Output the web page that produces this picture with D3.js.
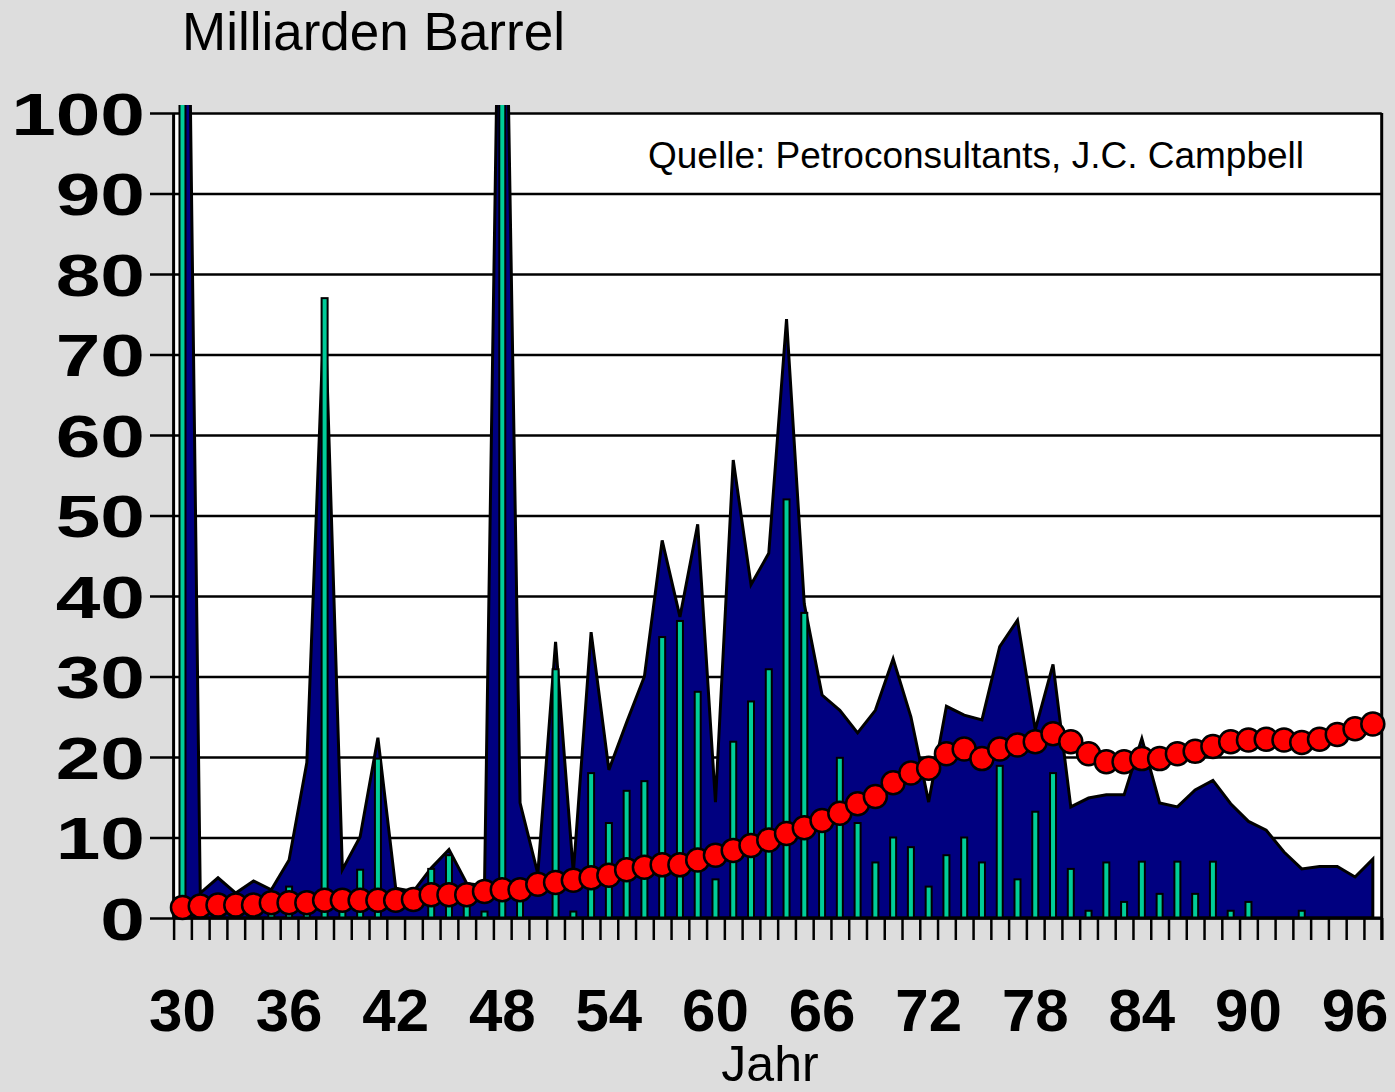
<!DOCTYPE html>
<html>
<head>
<meta charset="utf-8">
<script src="https://cdn.jsdelivr.net/npm/d3@7"></script>
<style>
  body { margin: 0; background: #dddddd; }
  svg { display: block; font-family: Arial, "Liberation Sans", sans-serif; }
</style>
</head>
<body>
<svg id="chart" width="1395" height="1092"></svg>
<script>
// Data (Milliarden Barrel per year)
var years = [1930,1931,1932,1933,1934,1935,1936,1937,1938,1939,
             1940,1941,1942,1943,1944,1945,1946,1947,1948,1949,
             1950,1951,1952,1953,1954,1955,1956,1957,1958,1959,
             1960,1961,1962,1963,1964,1965,1966,1967,1968,1969,
             1970,1971,1972,1973,1974,1975,1976,1977,1978,1979,
             1980,1981,1982,1983,1984,1985,1986,1987,1988,1989,
             1990,1991,1992,1993,1994,1995,1996,1997];

// blue area
var areaValues = [180,3.1,5.0,3.1,4.6,3.5,7.2,19.3,77,6.0,
                  10.1,22.4,3.7,3.3,6.2,8.5,4.3,4.0,148,14.3,
                  5.5,34.3,5.6,35.5,18.4,24.3,30.0,46.9,37.4,48.9,
                  14.4,56.9,41.4,45.3,74.4,39.0,27.7,25.8,23.0,25.8,
                  32.2,25.0,14.4,26.3,25.2,24.6,33.7,37.0,23.4,31.5,
                  13.8,14.9,15.3,15.3,22.3,14.3,13.8,15.9,17.1,14.2,
                  12.0,10.9,8.2,6.1,6.4,6.4,5.1,7.3];

// green bars
var barValues = [180,0,0,0,0,1.5,3.9,1.5,77,1.5,
                 6.0,19.8,0,0,6.1,7.8,2.5,0.8,150,2.5,
                 0,30.9,0.8,18.0,11.8,15.8,17.0,34.9,36.9,28.1,
                 4.8,21.9,26.9,30.9,52.0,37.9,11.0,19.9,11.8,6.9,
                 10.0,8.8,3.9,7.8,10.0,6.9,18.9,4.8,13.2,18.0,
                 6.1,0.9,6.9,2.0,7.0,3.0,7.0,3.0,7.0,0.9,
                 2.0,0,0,0.9,0,0,0,0];

// red dots
var dotValues = [1.3,1.5,1.6,1.6,1.6,1.9,1.9,1.9,2.2,2.2,
                 2.2,2.2,2.2,2.3,2.9,2.9,2.9,3.3,3.5,3.5,
                 4.2,4.4,4.7,5.0,5.3,6.0,6.3,6.6,6.6,7.2,
                 7.8,8.4,9.0,9.7,10.5,11.2,12.1,13.0,14.2,15.1,
                 16.8,18.0,18.6,20.4,21.0,19.8,21.0,21.5,21.9,22.9,
                 21.9,20.4,19.4,19.4,19.8,19.8,20.4,20.7,21.3,21.9,
                 22.1,22.2,22.1,21.8,22.2,22.8,23.5,24.1];

var yTicks = [0,10,20,30,40,50,60,70,80,90,100];
var xLabels = [1930,1936,1942,1948,1954,1960,1966,1972,1978,1984,1990,1996];

var svg = d3.select("#chart");

// Plot area
var pLeft = 173.6, pRight = 1381.7, pTop = 113, pBottom = 918;

var x = d3.scaleBand().domain(years).range([pLeft, pRight]).padding(0);
var xEdge = d3.scaleLinear().domain([1929.5, 1997.5]).range([pLeft, pRight]);
var y = d3.scaleLinear().domain([0, 100]).range([pBottom, pTop]);
function cx(yr) { return x(yr) + x.bandwidth() / 2; }

var rows = years.map(function (yr, i) {
  return {year: yr, area: areaValues[i], bar: barValues[i], dot: dotValues[i]};
});

svg.append("rect")
  .attr("x", pLeft).attr("y", pTop)
  .attr("width", pRight - pLeft).attr("height", pBottom - pTop)
  .style("fill", "#ffffff");

svg.append("clipPath").attr("id", "clip")
  .append("rect")
  .attr("x", pLeft).attr("y", y(101))
  .attr("width", pRight - pLeft).attr("height", pBottom - y(101));

// Grid lines (also act as outside ticks on the left)
var grid = svg.append("g")
  .attr("transform", "translate(" + pRight + ",0)")
  .call(d3.axisLeft(y).tickValues(yTicks).tickSize(pRight - 150).tickFormat(""));
grid.select(".domain").remove();
grid.selectAll("line").style("stroke", "#000").style("stroke-width", 2.5);

// Area
var area = d3.area()
  .x(function (d) { return cx(d.year); })
  .y0(pBottom)
  .y1(function (d) { return y(d.area); });

svg.append("path")
  .datum(rows)
  .attr("clip-path", "url(#clip)")
  .attr("d", area)
  .style("fill", "#000080")
  .style("stroke", "#000")
  .style("stroke-width", 3)
  .style("stroke-linejoin", "miter");

// Bars
svg.append("g").attr("clip-path", "url(#clip)")
  .selectAll("rect")
  .data(rows.filter(function (d) { return d.bar > 0; }))
  .enter().append("rect")
  .attr("x", function (d) { return cx(d.year) - 3; })
  .attr("y", function (d) { return y(d.bar); })
  .attr("width", 6)
  .attr("height", function (d) { return pBottom - y(d.bar); })
  .style("fill", "#00cc99")
  .style("stroke", "#000")
  .style("stroke-width", 2);

// Frame: left axis, right border
svg.append("line").attr("x1", pLeft).attr("x2", pLeft).attr("y1", pTop).attr("y2", pBottom)
  .style("stroke", "#000").style("stroke-width", 3);
svg.append("line").attr("x1", pRight).attr("x2", pRight).attr("y1", pTop).attr("y2", pBottom + 22)
  .style("stroke", "#000").style("stroke-width", 3);

// X tick marks between categories
var edges = years.map(function (yr) { return yr - 0.5; }).concat([1997.5]);
var xt = svg.append("g")
  .attr("transform", "translate(0," + pBottom + ")")
  .call(d3.axisBottom(xEdge).tickValues(edges).tickSize(22).tickFormat(""));
xt.select(".domain").remove();
xt.selectAll("line").style("stroke", "#000").style("stroke-width", 2.5);
svg.append("line").attr("x1", pLeft).attr("x2", pRight).attr("y1", pBottom).attr("y2", pBottom)
  .style("stroke", "#000").style("stroke-width", 3);

// Red dots
svg.append("g")
  .selectAll("circle")
  .data(rows)
  .enter().append("circle")
  .attr("cx", function (d) { return cx(d.year); })
  .attr("cy", function (d) { return y(d.dot); })
  .attr("r", 11.5)
  .style("fill", "#ff0000")
  .style("stroke", "#000")
  .style("stroke-width", 2.5);

// Y labels (wide bold digits)
var yl = svg.append("g")
  .attr("transform", "translate(145,0)")
  .call(d3.axisLeft(y).tickValues(yTicks).tickSize(0).tickPadding(0));
yl.select(".domain").remove();
yl.selectAll("text")
  .attr("x", 0)
  .attr("dy", "0.36em")
  .attr("transform", "scale(1.36,1)")
  .style("font-size", "59px")
  .style("font-weight", "bold")
  .style("font-family", "Arial, 'Liberation Sans', sans-serif")
  .style("fill", "#000");

// X labels
var xl = svg.append("g")
  .attr("transform", "translate(0,1031)")
  .call(d3.axisBottom(x).tickValues(xLabels).tickSize(0).tickPadding(0)
        .tickFormat(function (d) { return String(d).slice(2); }));
xl.select(".domain").remove();
xl.selectAll("text")
  .attr("y", 0)
  .attr("dy", 0)
  .style("font-size", "60px")
  .style("font-weight", "bold")
  .style("font-family", "Arial, 'Liberation Sans', sans-serif")
  .style("fill", "#000");

// Titles
svg.append("text").attr("x", 182).attr("y", 50)
  .style("font-size", "53px").text("Milliarden Barrel");
svg.append("text").attr("x", 770).attr("y", 1081).attr("text-anchor", "middle")
  .style("font-size", "50px").text("Jahr");
svg.append("text").attr("x", 648).attr("y", 168)
  .style("font-size", "37px").text("Quelle: Petroconsultants, J.C. Campbell");
</script>
</body>
</html>
